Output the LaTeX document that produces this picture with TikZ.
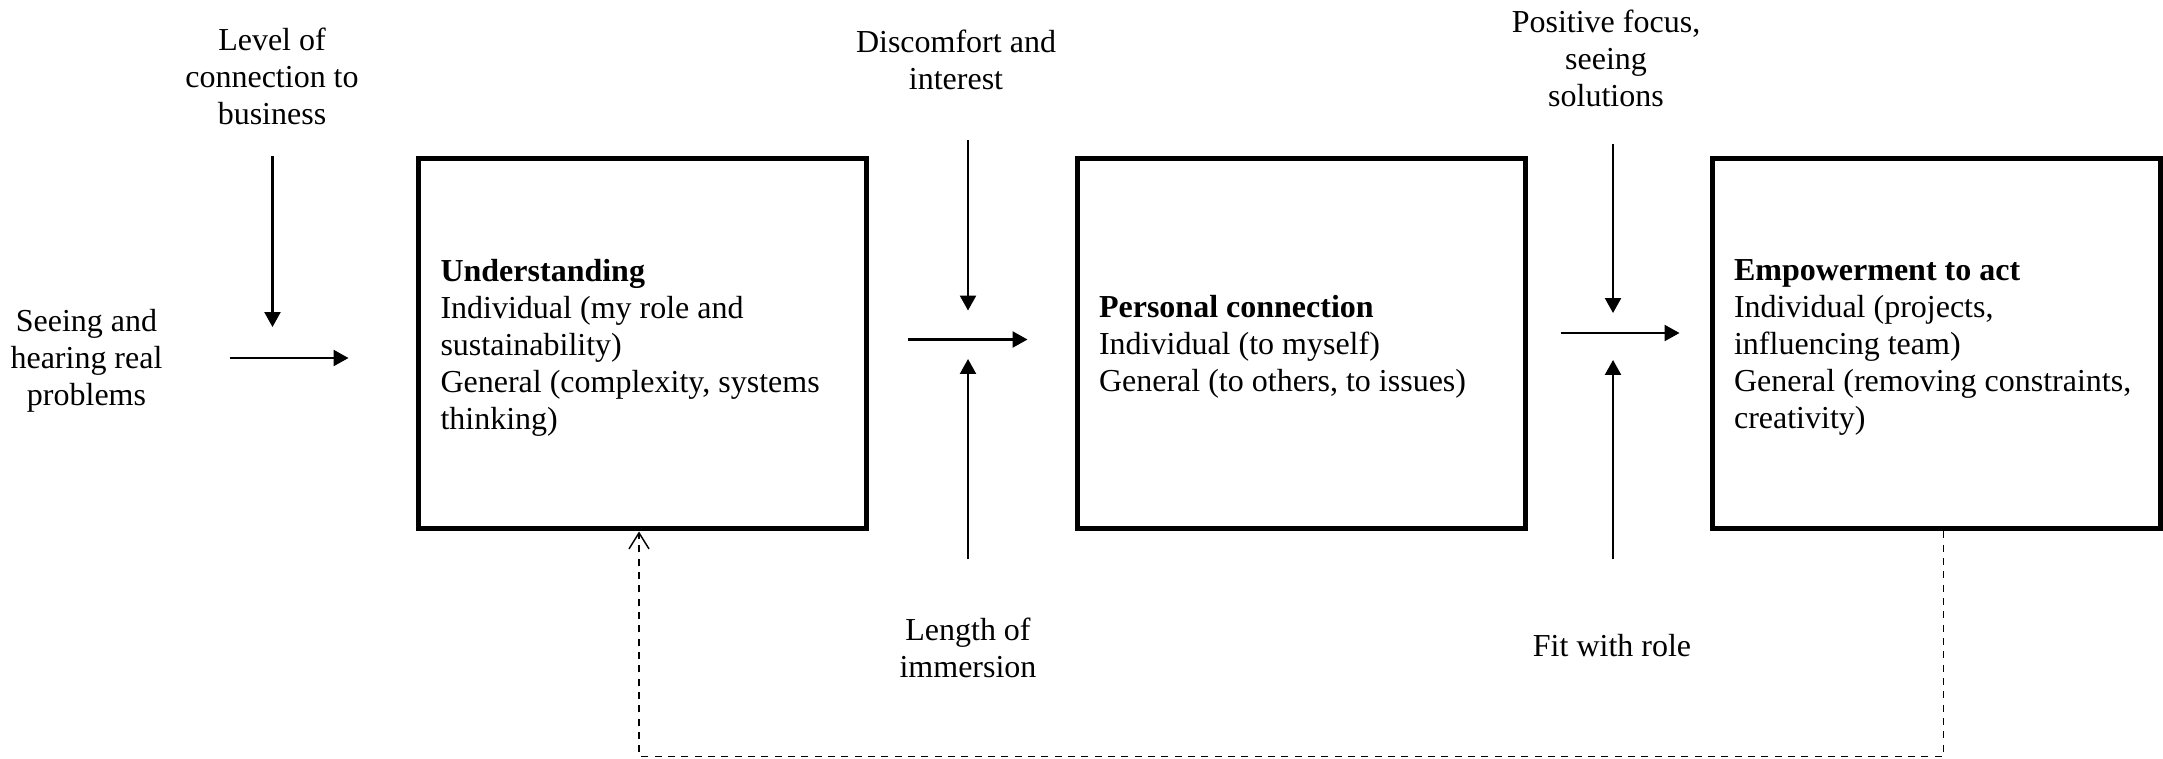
\documentclass[tikz,border=0pt]{standalone}
\usepackage{fontspec}
\setmainfont{Liberation Serif}
\usetikzlibrary{arrows.meta}
\tikzset{
  box/.style={draw, line width=1.875pt, minimum width=168pt, minimum height=139.1pt, inner sep=0pt},
  lbl/.style={align=center, inner sep=0pt, font=\fontsize{12pt}{13.875pt}\selectfont},
  boxtext/.style={align=left, inner sep=0pt, anchor=base west, font=\fontsize{12pt}{13.875pt}\selectfont},
  thinarrow/.style={line width=0.8pt, -{Triangle[length=5.6pt,width=6pt]}},
  feedback/.style={line width=0.55pt, dash pattern=on 2.6pt off 2.4pt, -{Straight Barb[length=6pt,width=7.5pt]}}
}
\begin{document}
\begin{tikzpicture}[x=0.375pt, y=-0.375pt]
\useasboundingbox (0,0) rectangle (2163,758);
% boxes
\node[box] (b1) at (642,343.5) {};
\node[box] (b2) at (1301,343.5) {};
\node[box] (b3) at (1936,343.5) {};
% box texts (anchored at the baseline of the last line)
\node[boxtext] (t1) at (440,429) {\textbf{Understanding}\\Individual (my role and\\sustainability)\\General (complexity, systems\\thinking)};
\node[boxtext] (t2) at (1098.5,391) {\textbf{Personal connection}\\Individual (to myself)\\General (to others, to issues)};
\node[boxtext] (t3) at (1733.5,428) {\textbf{Empowerment to act}\\Individual (projects,\\influencing team)\\General (removing constraints,\\creativity)};
% outer labels
\node[lbl, anchor=base] (l1) at (272,124) {Level of\\connection to\\business};
\node[lbl, anchor=base] (l2) at (86.5,405.5) {Seeing and\\hearing real\\problems};
\node[lbl, anchor=base] (l3) at (956,89) {Discomfort and\\interest};
\node[lbl, anchor=base] (l4) at (968,677) {Length of\\immersion};
\node[lbl, anchor=base] (l5) at (1606,106) {Positive focus,\\seeing\\solutions};
\node[lbl, anchor=base] (l6) at (1612,656) {Fit with role};
% arrow end points
\coordinate (a1s) at (272.5,156);
\coordinate (a1e) at (272.5,327);
\coordinate (a2s) at (229.5,358);
\coordinate (a2e) at (348.5,358);
\coordinate (a3s) at (968,140);
\coordinate (a3e) at (968,310.5);
\coordinate (a4s) at (908,339.5);
\coordinate (a4e) at (1027.5,339.5);
\coordinate (a5s) at (968,559);
\coordinate (a5e) at (968,359);
\coordinate (a6s) at (1613,143.5);
\coordinate (a6e) at (1613,313);
\coordinate (a7s) at (1560.5,333);
\coordinate (a7e) at (1679.5,333);
\coordinate (a8s) at (1613,559);
\coordinate (a8e) at (1613,360);
\draw[thinarrow] (a1s) -- (a1e);
\draw[thinarrow] (a2s) -- (a2e);
\draw[thinarrow] (a3s) -- (a3e);
\draw[thinarrow] (a4s) -- (a4e);
\draw[thinarrow] (a5s) -- (a5e);
\draw[thinarrow] (a6s) -- (a6e);
\draw[thinarrow] (a7s) -- (a7e);
\draw[thinarrow] (a8s) -- (a8e);
% feedback dashed loop
\coordinate (d1) at (1943.5,756.3);
\coordinate (d2) at (639,756.3);
\draw[feedback] (b3.south -| d1) -- (d1) -- (d2) -- (b1.south -| d2);
\end{tikzpicture}
\end{document}
